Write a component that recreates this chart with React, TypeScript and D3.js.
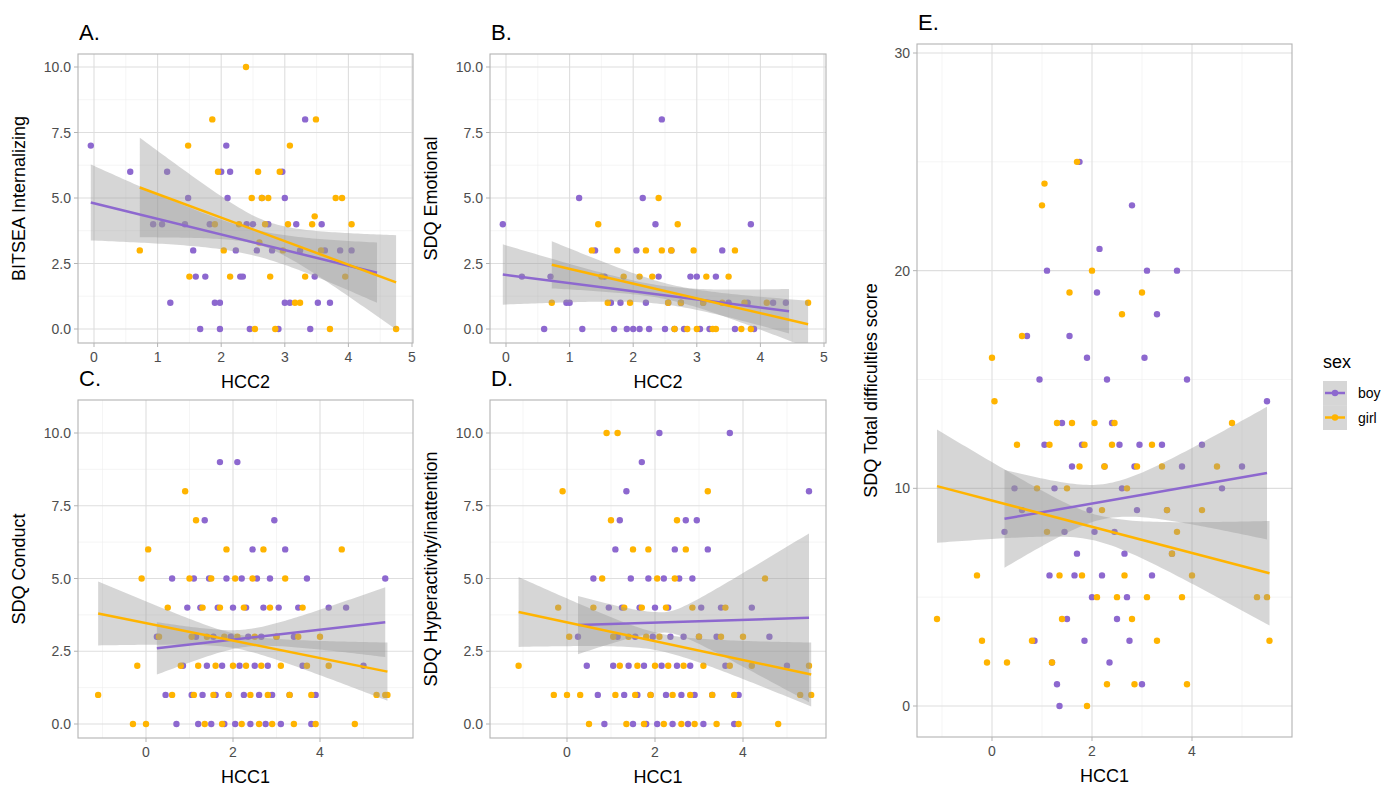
import React from "react";
import * as d3 from "d3";

// ---------- data ----------
const hcc2BoyX = [-0.05,0.57,0.93,1.07,1.2,1.15,1.43,1.48,1.56,1.6,1.67,1.75,1.82,1.9,1.98,1.98,2.0,2.08,2.14,2.1,2.23,2.3,2.34,2.4,2.45,2.5,2.56,2.64,2.74,2.8,2.9,2.96,3.0,3.0,3.08,3.18,3.24,3.32,3.4,3.47,3.52,3.58,3.63,3.71,3.87,4.05];
const bitseaBoy = [7,6,4,4,1,6,4,5,3,2,0,2,4,1,0,1,6,7,6,5,3,2,2,4,0,4,3,5,4,3,0,6,5,1,1,4,3,8,0,2,1,4,3,1,3,3];
const hcc2GirlX = [0.72,1.48,1.5,1.86,1.95,1.9,2.04,2.14,2.28,2.39,2.48,2.53,2.58,2.6,2.64,2.69,2.74,2.77,2.85,2.92,2.97,3.05,3.08,3.16,3.24,3.32,3.43,3.49,3.47,3.57,3.8,3.9,3.95,3.71,4.05,4.75];
const bitseaGirl = [3,7,2,8,6,4,3,2,4,10,5,0,6,3.3,5,4,5,2,0,6,3,4,7,1,1,2,4,8,4.3,3,5,5,2,0,4,0];

const hcc2BoyXB = [-0.05,0.25,0.7,0.95,1.0,1.15,1.2,1.4,1.55,1.65,1.7,1.8,1.9,2.0,2.05,2.1,2.15,2.2,2.25,2.35,2.4,2.45,2.5,2.55,2.6,2.65,2.75,2.8,2.9,3.0,3.05,3.1,3.2,3.3,3.4,3.5,3.6,3.8,3.85,3.9,4.2,4.4,0.6];
const emoBoy = [4,2,2,1,1,5,0,3,2,1,0,1,0,0,3,0,5,1,0,4,2,8,0,1,3,0,1,0,2,2,0,1,0,2,3,1,0,1,4,0,1,1,0];
const hcc2GirlXB = [0.72,1.35,1.45,1.5,1.6,1.75,1.85,1.95,2.1,2.2,2.3,2.4,2.45,2.55,2.6,2.65,2.7,2.75,2.85,2.95,3.0,3.1,3.15,3.25,3.3,3.4,3.5,3.6,3.7,3.75,3.85,4.1,4.75];
const emoGirl = [1,3,4,2,1,3,2,1,2,3,2,5,3,1,3,0,4,1,0,3,0,1,2,0,0,1,2,3,0,1,0,1,1];

const hcc1BoyX = [0.25,0.45,0.6,0.7,0.85,0.95,1.05,1.1,1.15,1.2,1.25,1.3,1.35,1.4,1.45,1.5,1.55,1.6,1.65,1.7,1.75,1.8,1.85,1.9,1.95,2.0,2.05,2.1,2.15,2.2,2.25,2.3,2.35,2.4,2.45,2.5,2.55,2.6,2.65,2.7,2.75,2.8,2.85,2.9,2.95,3.0,3.05,3.1,3.2,3.3,3.4,3.5,3.6,3.7,3.8,3.9,4.2,4.6,5.0,5.5];
const hcc1GirlX = [-1.1,-0.3,-0.2,-0.1,0.0,0.05,0.3,0.5,0.6,0.8,0.9,1.0,1.05,1.1,1.15,1.2,1.3,1.35,1.4,1.5,1.55,1.6,1.7,1.75,1.8,1.85,1.9,2.0,2.05,2.1,2.2,2.25,2.3,2.4,2.45,2.5,2.6,2.65,2.7,2.8,2.85,2.9,3.0,3.1,3.2,3.3,3.4,3.5,3.6,3.7,3.8,3.9,4.0,4.2,4.5,4.8,5.3,5.5,5.55];
const conductBoy = [3,1,5,0,2,4,1,5,3,0,4,1,7,2,5,0,3,1,4,9,2,0,5,1,3,4,0,9,2,5,1,4,3,0,6,2,5,1,3,4,0,2,5,1,7,3,4,0,6,1,3,4,2,5,0,1,4,4,2,5];
const conductGirl = [1,0,2,5,0,6,3,4,1,2,8,5,3,1,7,2,4,0,3,5,1,2,4,0,3,6,1,2,5,3,0,4,2,1,5,3,0,2,6,1,4,0,3,2,5,1,0,3,4,2,1,0,3,2,6,0,1,1,1];
const hyperBoy = [3,2,5,1,0,4,2,6,3,7,4,1,8,2,5,0,3,1,4,9,2,0,5,1,3,4,0,10,2,5,1,4,3,0,6,2,5,1,3,7,0,2,5,1,7,3,4,0,6,1,3,4,2,10,0,1,4,3,2,8];
const hyperGirl = [2,1,4,8,1,3,1,0,4,5,10,7,3,1,10,2,4,0,3,6,1,2,4,0,3,6,1,2,5,3,0,4,2,1,5,7,0,2,6,1,4,0,3,2,8,1,0,3,4,2,1,0,3,2,5,0,1,2,1];
const totalBoy = [8,10,9,17,3,15,12,20,6,2,10,1,0,13,8,4,17,11,6,7,25,12,3,16,9,5,8,19,21,6,11,15,2,13,8,4,12,10,7,5,3,23,11,9,12,1,16,20,6,18,12,9,7,20,11,15,12,10,11,14];
const totalGirl = [4,6,3,2,16,14,2,12,17,3,10,23,24,8,12,2,13,6,4,10,19,13,25,11,6,12,0,20,13,5,9,11,1,12,13,5,18,6,10,4,1,11,19,5,12,3,11,9,7,8,5,1,6,9,11,13,5,5,3];

// fitted lines: [x0, x1, y0, y1, xCenter, seCenter, seLeft, seRight]
type Fit = number[];
const fitA_boy: Fit = [-0.05, 4.45, 4.83, 2.15, 2.5, 0.5, 1.45, 1.15];
const fitA_girl: Fit = [0.72, 4.75, 5.4, 1.78, 2.7, 0.5, 1.9, 1.8];
const fitB_boy: Fit = [-0.05, 4.45, 2.08, 0.68, 2.5, 0.35, 1.15, 0.85];
const fitB_girl: Fit = [0.72, 4.75, 2.45, 0.18, 2.6, 0.3, 0.9, 0.9];
const fitC_boy: Fit = [0.25, 5.5, 2.6, 3.5, 2.3, 0.3, 0.9, 1.2];
const fitC_girl: Fit = [-1.1, 5.55, 3.8, 1.8, 2.1, 0.25, 1.1, 1.0];
const fitD_boy: Fit = [0.25, 5.5, 3.4, 3.65, 2.2, 0.35, 1.0, 2.9];
const fitD_girl: Fit = [-1.1, 5.55, 3.85, 1.7, 2.1, 0.3, 1.2, 1.1];
const fitE_boy: Fit = [0.25, 5.5, 8.6, 10.7, 2.3, 0.8, 2.25, 3.05];
const fitE_girl: Fit = [-1.1, 5.55, 10.1, 6.1, 2.1, 0.6, 2.6, 2.4];

const BOY = "#8D68CF";
const GIRL = "#FFB400";
const FONT = "Liberation Sans, Arial, sans-serif";

type PanelProps = {
  label: string; ytitle: string; xtitle: string;
  left: number; right: number; top: number; bottom: number;
  xd: [number, number]; xr: [number, number]; yd: [number, number]; yr: [number, number];
  xticks: number[]; xminor: number[]; yticks: number[]; yminor: number[]; yfmt: (v: number) => string;
  boyX: number[]; boyY: number[]; girlX: number[]; girlY: number[];
  fitBoy: Fit; fitGirl: Fit; ytitleX: number;
};

function ribbon(f: Fit, xs: d3.ScaleLinear<number, number>, ys: d3.ScaleLinear<number, number>) {
  const [x0, x1, y0, y1, xc, sc, sl, sr] = f;
  const slope = (y1 - y0) / (x1 - x0);
  const se = (x: number) => {
    const edge = x < xc ? sl : sr;
    const d = x < xc ? xc - x0 : x1 - xc;
    const k = (edge * edge - sc * sc) / (d * d);
    return Math.sqrt(sc * sc + k * (x - xc) * (x - xc));
  };
  const pts = d3.range(0, 81).map(i => x0 + (x1 - x0) * i / 80);
  const area = d3.area<number>()
    .x(x => xs(x))
    .y0(x => ys(y0 + slope * (x - x0) - se(x)))
    .y1(x => ys(y0 + slope * (x - x0) + se(x)));
  return { area: area(pts)!, line: `M${xs(x0)},${ys(y0)}L${xs(x1)},${ys(y1)}` };
}

function Panel(p: PanelProps) {
  const xs = d3.scaleLinear().domain(p.xd).range(p.xr);
  const ys = d3.scaleLinear().domain(p.yd).range(p.yr);
  const rb = ribbon(p.fitBoy, xs, ys);
  const rg = ribbon(p.fitGirl, xs, ys);
  const clipId = "clip" + p.label;
  return (
    <g>
      <defs>
        <clipPath id={clipId}><rect x={p.left} y={p.top} width={p.right - p.left} height={p.bottom - p.top} /></clipPath>
      </defs>
      <rect x={p.left} y={p.top} width={p.right - p.left} height={p.bottom - p.top} fill="white" />
      {p.xminor.map(v => <line key={"xm" + v} x1={xs(v)} x2={xs(v)} y1={p.top} y2={p.bottom} stroke="#EFEFEF" strokeWidth={0.6} />)}
      {p.yminor.map(v => <line key={"ym" + v} y1={ys(v)} y2={ys(v)} x1={p.left} x2={p.right} stroke="#EFEFEF" strokeWidth={0.6} />)}
      {p.xticks.map(v => <line key={"x" + v} x1={xs(v)} x2={xs(v)} y1={p.top} y2={p.bottom} stroke="#DEDEDE" strokeWidth={1.1} />)}
      {p.yticks.map(v => <line key={"y" + v} y1={ys(v)} y2={ys(v)} x1={p.left} x2={p.right} stroke="#DEDEDE" strokeWidth={1.1} />)}
      <g clipPath={`url(#${clipId})`}>
        {d3.zip(p.boyX, p.boyY).map(([x, y], i) => <circle key={"b" + i} cx={xs(x)} cy={ys(y)} r={3.2} fill={BOY} />)}
        {d3.zip(p.girlX, p.girlY).map(([x, y], i) => <circle key={"g" + i} cx={xs(x)} cy={ys(y)} r={3.2} fill={GIRL} />)}
        <path d={rb.area} fill="#999999" opacity={0.4} />
        <path d={rg.area} fill="#999999" opacity={0.4} />
        <path d={rb.line} stroke={BOY} strokeWidth={2.5} fill="none" />
        <path d={rg.line} stroke={GIRL} strokeWidth={2.5} fill="none" />
      </g>
      <rect x={p.left} y={p.top} width={p.right - p.left} height={p.bottom - p.top} fill="none" stroke="#B3B3B3" strokeWidth={1.1} />
      {p.xticks.map(v => (
        <g key={"xt" + v}>
          <line x1={xs(v)} x2={xs(v)} y1={p.bottom} y2={p.bottom + 4} stroke="#B3B3B3" />
          <text x={xs(v)} y={p.bottom + 19} textAnchor="middle" fontSize={14} fill="#4D4D4D">{v}</text>
        </g>
      ))}
      {p.yticks.map(v => (
        <g key={"yt" + v}>
          <line x1={p.left - 4} x2={p.left} y1={ys(v)} y2={ys(v)} stroke="#B3B3B3" />
          <text x={p.left - 7} y={ys(v) + 5} textAnchor="end" fontSize={14} fill="#4D4D4D">{p.yfmt(v)}</text>
        </g>
      ))}
      <text x={(p.left + p.right) / 2} y={p.bottom + 45} textAnchor="middle" fontSize={18} fill="black">{p.xtitle}</text>
      <text transform={`translate(${p.ytitleX},${(p.top + p.bottom) / 2}) rotate(-90)`} textAnchor="middle" fontSize={18} fill="black">{p.ytitle}</text>
      <text x={p.left + 1} y={p.top - 14} fontSize={22} fill="black">{p.label}</text>
    </g>
  );
}

const f1 = (v: number) => v.toFixed(1);
const f0 = (v: number) => String(v);

export default function App() {
  return (
    <svg width={1400} height={786} style={{ position: "absolute", left: 0, top: 0, fontFamily: FONT }}>
      <rect width={1400} height={786} fill="white" />
      <Panel label="A." ytitle="BITSEA Internalizing" xtitle="HCC2" left={78} right={413} top={54} bottom={343}
        xd={[0, 5]} xr={[94, 412]} yd={[0, 10]} yr={[329, 67]} xticks={[0, 1, 2, 3, 4, 5]} xminor={[0.5, 1.5, 2.5, 3.5, 4.5]}
        yticks={[0, 2.5, 5, 7.5, 10]} yminor={[1.25, 3.75, 6.25, 8.75]} yfmt={f1}
        boyX={hcc2BoyX} boyY={bitseaBoy} girlX={hcc2GirlX} girlY={bitseaGirl} fitBoy={fitA_boy} fitGirl={fitA_girl} ytitleX={25} />
      <Panel label="B." ytitle="SDQ Emotional" xtitle="HCC2" left={490} right={826} top={54} bottom={343}
        xd={[0, 5]} xr={[506, 824]} yd={[0, 10]} yr={[329, 67]} xticks={[0, 1, 2, 3, 4, 5]} xminor={[0.5, 1.5, 2.5, 3.5, 4.5]}
        yticks={[0, 2.5, 5, 7.5, 10]} yminor={[1.25, 3.75, 6.25, 8.75]} yfmt={f1}
        boyX={hcc2BoyXB} boyY={emoBoy} girlX={hcc2GirlXB} girlY={emoGirl} fitBoy={fitB_boy} fitGirl={fitB_girl} ytitleX={437} />
      <Panel label="C." ytitle="SDQ Conduct" xtitle="HCC1" left={78} right={413} top={400} bottom={738}
        xd={[0, 4]} xr={[146, 320]} yd={[0, 10]} yr={[724, 433]} xticks={[0, 2, 4]} xminor={[-1, 1, 3, 5]}
        yticks={[0, 2.5, 5, 7.5, 10]} yminor={[1.25, 3.75, 6.25, 8.75]} yfmt={f1}
        boyX={hcc1BoyX} boyY={conductBoy} girlX={hcc1GirlX} girlY={conductGirl} fitBoy={fitC_boy} fitGirl={fitC_girl} ytitleX={25} />
      <Panel label="D." ytitle="SDQ Hyperactivity/inattention" xtitle="HCC1" left={490} right={826} top={400} bottom={738}
        xd={[0, 4]} xr={[567, 743]} yd={[0, 10]} yr={[724, 433]} xticks={[0, 2, 4]} xminor={[-1, 1, 3, 5]}
        yticks={[0, 2.5, 5, 7.5, 10]} yminor={[1.25, 3.75, 6.25, 8.75]} yfmt={f1}
        boyX={hcc1BoyX} boyY={hyperBoy} girlX={hcc1GirlX} girlY={hyperGirl} fitBoy={fitD_boy} fitGirl={fitD_girl} ytitleX={437} />
      <Panel label="E." ytitle="SDQ Total difficulties score" xtitle="HCC1" left={917} right={1292} top={44} bottom={737}
        xd={[0, 4]} xr={[992, 1192]} yd={[0, 30]} yr={[706, 53]} xticks={[0, 2, 4]} xminor={[-1, 1, 3, 5]}
        yticks={[0, 10, 20, 30]} yminor={[5, 15, 25]} yfmt={f0}
        boyX={hcc1BoyX} boyY={totalBoy} girlX={hcc1GirlX} girlY={totalGirl} fitBoy={fitE_boy} fitGirl={fitE_girl} ytitleX={877} />
      <text x={1323} y={368} fontSize={18}>sex</text>
      {[{ k: "boy", c: BOY }, { k: "girl", c: GIRL }].map((d, i) => (
        <g key={d.k}>
          <rect x={1323} y={381 + i * 24.5} width={24} height={24.5} fill="#999999" opacity={0.4} />
          <line x1={1325} x2={1345} y1={393 + i * 24.5} y2={393 + i * 24.5} stroke={d.c} strokeWidth={2.5} />
          <circle cx={1335} cy={393 + i * 24.5} r={3.2} fill={d.c} />
          <text x={1358} y={398 + i * 24.5} fontSize={14}>{d.k}</text>
        </g>
      ))}
    </svg>
  );
}
